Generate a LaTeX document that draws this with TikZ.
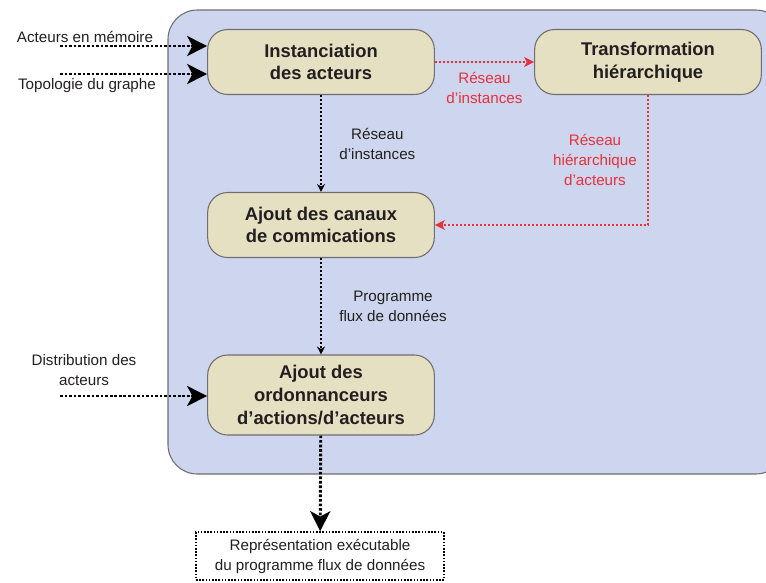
\documentclass[tikz,border=0pt]{standalone}
\usepackage{fontspec}
\setmainfont{Liberation Sans}
\usetikzlibrary{positioning,arrows.meta,calc}

\definecolor{fondbleu}{HTML}{CDD6EE}
\definecolor{fondetape}{HTML}{E6E0C3}
\definecolor{bordgris}{HTML}{6E6E6E}
\definecolor{rougelien}{HTML}{E8303A}
\definecolor{encre}{HTML}{231F20}

\tikzset{
  etape/.style={rectangle,rounded corners=15pt,draw=bordgris,line width=0.8pt,fill=fondetape,
    minimum width=170pt,minimum height=48.75pt,align=center,text=encre,
    font=\fontsize{13.8}{17}\selectfont\bfseries},
  lien/.style={line width=0.8pt,dash pattern=on 1.5pt off 1.5pt,-{Stealth[length=6pt,width=6pt]}},
  lienrouge/.style={lien,draw=rougelien,-{Stealth[length=7.5pt,width=7.5pt,inset=2pt]},rougelien},
  entree/.style={line width=2.2pt,dash pattern=on 2pt off 1.4pt,-{Stealth[length=15pt,width=15pt,inset=4pt]}},
  texte/.style={font=\fontsize{11.4}{15}\selectfont,align=center,text=encre},
}

\begin{document}
\begin{tikzpicture}[x=0.75pt,y=-0.75pt]
  \useasboundingbox (0,0) rectangle (766,582);
  \clip (0,0) rectangle (766,582);
  % fond
  \draw[fill=fondbleu,draw=bordgris,line width=0.8pt,rounded corners=22pt] (168,10) rectangle (785,474);

  % etapes
  \node[etape] (inst) at (321,62) {Instanciation\\des acteurs};
  \node[etape] (transf) at (648,62) {Transformation\\hiérarchique};
  \node[etape] (canaux) at (321,225) {Ajout des canaux\\de commications};
  \node[etape,minimum height=60pt] (ordo) at (321,395) {Ajout des\\ordonnanceurs\\d’actions/d’acteurs};
  \node[draw,line width=1.2pt,dash pattern=on 1.2pt off 1.2pt,minimum width=186pt,minimum height=36pt,
    texte] (sortie) at (320,556) {Représentation exécutable\\du programme flux de données};

  % entrees
  \node[texte] (memoire) at (85,37) {Acteurs en mémoire};
  \node[texte] (topo) at (87,86) {Topologie du graphe};
  \node[texte] (distrib) at (84,370) {Distribution des\\acteurs};
  \coordinate (inA) at (60,46);
  \coordinate (inB) at (60,74);
  \coordinate (inC) at (60,396);
  \draw[entree] (inA) -- (inA -| inst.west);
  \draw[entree] (inB) -- (inB -| inst.west);
  \draw[entree] (inC) -- (inC -| ordo.west);

  % liens
  \draw[lien] (inst) -- (canaux) node[midway,right=10pt,texte] {Réseau\\d’instances};
  \draw[lien] (canaux) -- (ordo) node[midway,right=10pt,texte] {Programme\\flux de données};
  \draw[lienrouge] (inst) -- (transf) node[midway,below=4pt,texte,text=rougelien] {Réseau\\d’instances};
  \draw[lienrouge] (transf.south) |- (canaux.east);
  \node[texte,text=rougelien] (hier) at (595,160) {Réseau\\hiérarchique\\d’acteurs};
  \draw[entree] (ordo) -- (sortie);
\end{tikzpicture}
\end{document}
